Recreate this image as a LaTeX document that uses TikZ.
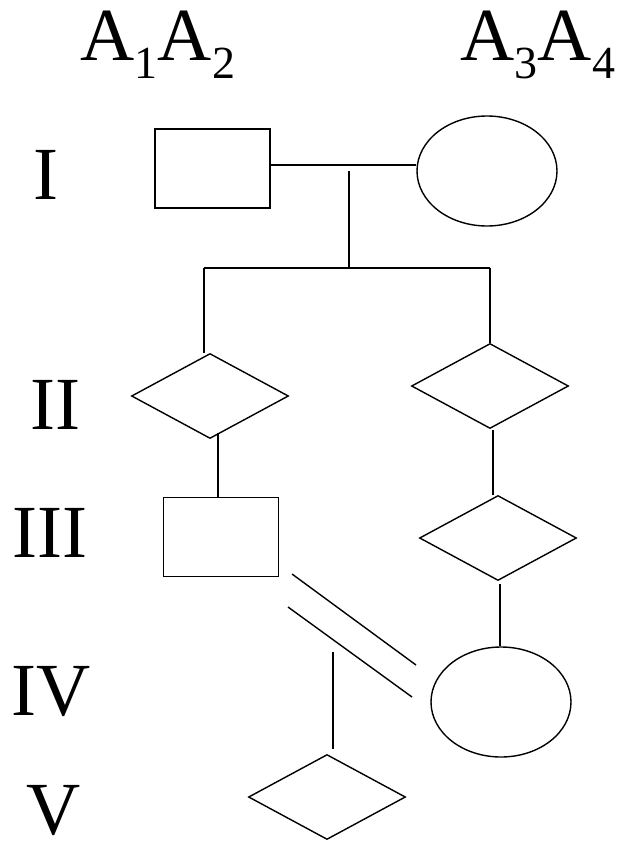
\documentclass[tikz,border=0pt]{standalone}
\usepackage{fontspec}
\setmainfont{Liberation Serif}
\usetikzlibrary{shapes.geometric}
\newcommand{\allele}[1]{A\raisebox{-18pt}{\fontsize{46}{48}\selectfont #1}}
\begin{document}
\begin{tikzpicture}[x=1pt, y=-1pt, line width=1.4pt,
        male/.style={rectangle, draw, minimum width=115pt, minimum height=79pt, inner sep=0pt},
        female/.style={ellipse, draw, minimum width=140pt, minimum height=110pt, inner sep=0pt},
        unknown/.style={diamond, draw, minimum width=157pt, minimum height=85pt, inner sep=0pt},
        gen/.style={anchor=base, inner sep=0pt, font=\fontsize{75}{80}\selectfont}]
        \useasboundingbox (0,0) rectangle (621,841);
        % genotypes of the founders
        \node[gen, anchor=base west] (g1) at (80,60) {\allele{1}\allele{2}};
        \node[gen, anchor=base west] (g2) at (460,60) {\allele{3}\allele{4}};
        % generation numbers
        \node[gen] (gI) at (46,199) {I};
        \node[gen] (gII) at (55,429) {II};
        \node[gen] (gIII) at (50,557) {III};
        \node[gen] (gIV) at (51,715) {IV};
        \node[gen] (gV) at (54,834) {V};
        % individuals
        \node[male] (m1) at (212.5,168.5) {};
        \node[female] (f1) at (487,171) {};
        \node[unknown] (u2a) at (210,396) {};
        \node[unknown] (u2b) at (490,386) {};
        \node[male] (m3) at (221,537) {};
        \node[unknown] (u3) at (498,538) {};
        \node[female] (f4) at (501,702) {};
        \node[unknown] (u5) at (327,797) {};
        % junctions
        \coordinate (mate) at (349,171);
        \coordinate (sibl) at (204,268);
        \coordinate (sibm) at (349,268);
        \coordinate (sibr) at (490,268);
        \coordinate (mate4) at (333,652);
        \draw (m1.east |- 0,165) -- (f1.west |- 0,165);
        \draw (mate) -- (sibm);
        \draw (sibl) -- (sibr);
        \draw (sibl) -- (204,353);
        \draw (sibr) -- (u2b.north);
        \draw (218,433) -- (m3.north -| 218,0);
        \draw (493,430) -- (493,495);
        \draw (500,584) -- (f4.north -| 500,0);
        % consanguineous mating
        \draw (292,574) -- (416,665);
        \draw (288,607) -- (412,697);
        \draw (mate4) -- (333,749);
    \end{tikzpicture}
\end{document}
